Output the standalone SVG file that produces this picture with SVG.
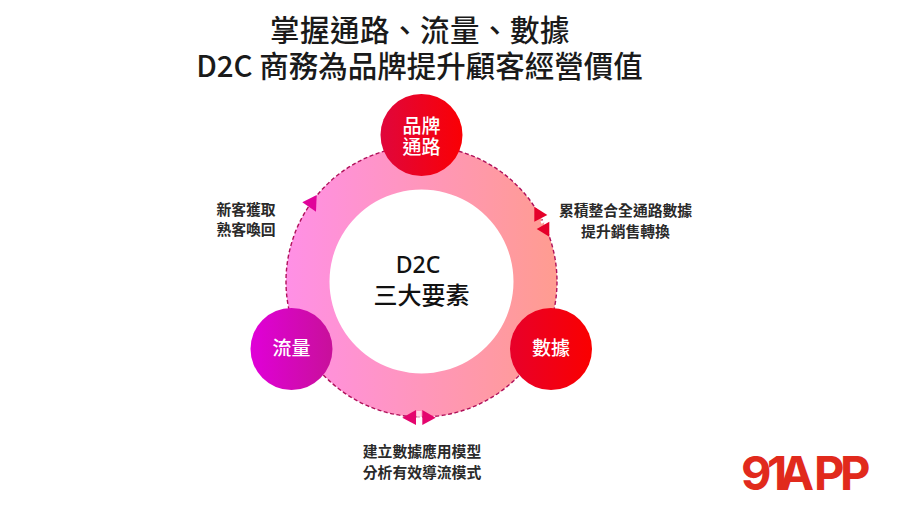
<svg xmlns="http://www.w3.org/2000/svg" width="900" height="506" viewBox="0 0 900 506">
<style>
text{font-family:"Noto Sans CJK TC","Noto Sans",sans-serif;text-anchor:middle}
.t{font-size:29.500px;font-weight:500;fill:#1a1a1a}
.c{font-size:24px;font-weight:500;fill:#111}
.n{font-size:19px;font-weight:500;fill:#fff}
.l{font-size:14.800px;font-weight:700;fill:#2a2a2a}
.d{fill:none;stroke:#b0105a;stroke-width:1.400;stroke-dasharray:4 2.500}
</style>
<defs>
<linearGradient id="ring" x1="286" x2="557" y1="0" y2="0" gradientUnits="userSpaceOnUse"><stop offset="0" stop-color="#ff90e6"/><stop offset="1" stop-color="#ff9c90"/></linearGradient>
<linearGradient id="gTop" x1="0" x2="1" y1="0" y2="0"><stop offset="0" stop-color="#e0063c"/><stop offset="1" stop-color="#fa0004"/></linearGradient>
<linearGradient id="gLeft" x1="0" x2="1" y1="0" y2="0"><stop offset="0" stop-color="#e000d8"/><stop offset="1" stop-color="#c8109a"/></linearGradient>
<linearGradient id="gRight" x1="0" x2="1" y1="0" y2="0"><stop offset="0" stop-color="#e8002a"/><stop offset="1" stop-color="#fa0000"/></linearGradient>
</defs>
<rect width="900" height="506" fill="#fff"/>
<text class="t" x="420" y="41" letter-spacing="0.500">掌握通路、流量、數據</text>
<text class="t" x="419.500" y="77">D2C 商務為品牌提升顧客經營價值</text>
<g id="connectors">
<path id="ring-band" fill="url(#ring)" fill-rule="evenodd" d="M421.500 146a135.500 135.500 0 1 0 0.010 0ZM421.500 189.500a92 92 0 1 1 -0.010 0Z"/>
<circle class="d" cx="421.500" cy="281.500" r="135.500"/>
<path d="M541 222.500 L553 217.500" stroke="#fff" stroke-width="2.500" fill="none"/>
<path d="M534.300 206.700 L547.300 215 L534.300 221.700Z" fill="#e5002a"/>
<path d="M536.700 229 L549.300 221.700 L549.300 236.700Z" fill="#e5002a"/>
<path d="M419 411 V425" stroke="#fff" stroke-width="5" fill="none" opacity="0.600"/>
<path d="M402.300 417.700 L416 410 L416 425Z" fill="#e4056e"/>
<path d="M435.700 417.700 L422.300 410 L422.300 425Z" fill="#e4056e"/>
<path d="M302.300 202.300 L316.700 195 L316 211.700Z" fill="#e0049a"/>
</g>
<g id="node-brand"><circle cx="421.500" cy="135" r="41" fill="url(#gTop)"/><text class="n"><tspan x="421.500" y="133">品牌</tspan><tspan x="421.500" y="154">通路</tspan></text></g>
<g id="node-traffic"><circle cx="291.500" cy="349" r="41" fill="url(#gLeft)"/><text class="n" x="291.500" y="355">流量</text></g>
<g id="node-data"><circle cx="551" cy="349" r="41" fill="url(#gRight)"/><text class="n" x="551" y="355">數據</text></g>
<g id="node-center"><text class="c"><tspan x="418" y="273" style="font-family:'Noto Sans',sans-serif;font-size:23px;font-weight:500">D2C</tspan><tspan x="421.500" y="304">三大要素</tspan></text></g>
<g id="labels">
<text class="l"><tspan x="246" y="215">新客獲取</tspan><tspan x="246" y="235">熟客喚回</tspan></text>
<text class="l"><tspan x="625.500" y="216">累積整合全通路數據</tspan><tspan x="625.500" y="237">提升銷售轉換</tspan></text>
<text class="l"><tspan x="422" y="457">建立數據應用模型</tspan><tspan x="422" y="478">分析有效導流模式</tspan></text>
</g>
<g id="logo"><text x="741 767 779 814 840" y="490" style="text-anchor:start;font-family:Inter,sans-serif;font-size:47px;font-weight:700;fill:#e12a1c">91APP</text></g>
</svg>
